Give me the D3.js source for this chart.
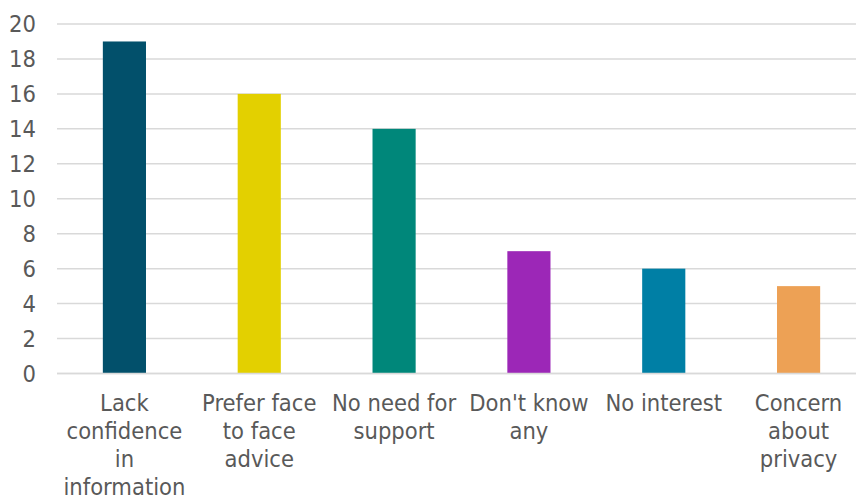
<!DOCTYPE html>
<html>
<head>
<meta charset="utf-8">
<script src="https://cdn.jsdelivr.net/npm/d3@7"></script>
<style>
  html, body { margin: 0; padding: 0; background: #ffffff; }
  svg { display: block; }
  text { font-family: "DejaVu Sans Condensed", "DejaVu Sans", Verdana, sans-serif; font-stretch: condensed; fill: #595959; }
</style>
</head>
<body>
<svg id="chart" width="856" height="496"></svg>
<script>
// Reasons given for not using online support
const categories = [
  ["Lack", "confidence", "in", "information"],
  ["Prefer face", "to face", "advice"],
  ["No need for", "support"],
  ["Don't know", "any"],
  ["No interest"],
  ["Concern", "about", "privacy"]
];
const values = [19, 16, 14, 7, 6, 5];
const colors = ["#02506b", "#e3d000", "#00877a", "#9c27b7", "#007fa5", "#eda155"];
const yTicks = [0, 2, 4, 6, 8, 10, 12, 14, 16, 18, 20];

const svg = d3.select("#chart");
const plotLeft = 57, plotRight = 866, plotTop = 24, plotBottom = 373.5;
const fontFamily = '"DejaVu Sans Condensed", "DejaVu Sans", Verdana, sans-serif';

const keys = categories.map((c, i) => i);
const x = d3.scaleBand().domain(keys).range([plotLeft, plotRight])
  .paddingInner(0.68).paddingOuter(0.34);
const y = d3.scaleLinear().domain([0, 20]).range([plotBottom, plotTop]);

// horizontal gridlines
svg.append("g").selectAll("line").data(yTicks).join("line")
  .attr("x1", plotLeft).attr("x2", 856)
  .attr("y1", d => y(d)).attr("y2", d => y(d))
  .attr("stroke", "#d9d9d9").attr("stroke-width", 1.5);

// y-axis labels
const yAxis = d3.axisLeft(y).tickValues(yTicks).tickSize(0).tickPadding(0);
const gy = svg.append("g").attr("transform", `translate(${plotLeft - 21},0)`).call(yAxis);
gy.select(".domain").remove();
gy.selectAll("text")
  .attr("font-size", 23.5).attr("fill", "#595959")
  .style("font-family", fontFamily).style("font-stretch", "condensed");

// bars
svg.append("g").selectAll("rect").data(values).join("rect")
  .attr("x", (d, i) => x(i)).attr("width", x.bandwidth())
  .attr("y", d => y(d)).attr("height", d => y(0) - y(d))
  .attr("fill", (d, i) => colors[i]);

// baseline
svg.append("line").attr("x1", plotLeft).attr("x2", 856)
  .attr("y1", y(0)).attr("y2", y(0))
  .attr("stroke", "#d9d9d9").attr("stroke-width", 1.5);

// category labels (multi-line)
const lab = svg.append("g").selectAll("text").data(categories).join("text")
  .attr("text-anchor", "middle")
  .attr("font-size", 23.5)
  .attr("x", (d, i) => x(i) + x.bandwidth() / 2)
  .attr("y", 411);
lab.selectAll("tspan").data(d => d).join("tspan")
  .attr("x", function () { return this.parentNode.getAttribute("x"); })
  .attr("dy", (d, j) => j === 0 ? 0 : 28)
  .text(d => d);
</script>
</body>
</html>
